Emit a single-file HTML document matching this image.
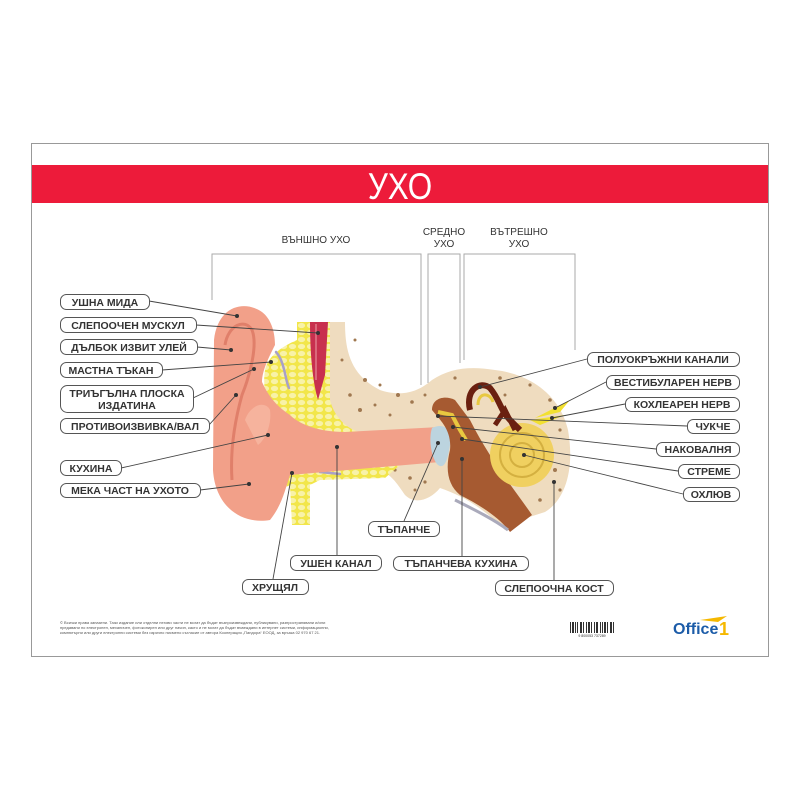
<!DOCTYPE html>
<html><head><meta charset="utf-8"><style>
html,body{margin:0;padding:0;background:#fff;}
svg{display:block}
.l{font-family:"Liberation Sans",sans-serif;font-size:10.5px;font-weight:bold;fill:#333;}
.b{fill:#fff;stroke:#555;stroke-width:1}
.c{stroke:#444;stroke-width:0.9;fill:none}
.d{fill:#333}
</style></head><body>
<svg width="800" height="800" viewBox="0 0 800 800" xmlns="http://www.w3.org/2000/svg">
<defs>
<pattern id="fat" width="9" height="7" patternUnits="userSpaceOnUse">
<rect width="9" height="7" fill="#f2e64a"/>
<ellipse cx="4.5" cy="3.5" rx="3.6" ry="2.6" fill="#f8f2a8"/>
</pattern>
</defs>
<rect x="31.5" y="143.5" width="737" height="513" fill="#fff" stroke="#999" stroke-width="1"/>
<rect x="32" y="165" width="736" height="38" fill="#ed1b3a"/>
<text x="400" y="199" text-anchor="middle" font-family="Liberation Sans,sans-serif" font-size="37" fill="#fff" transform="translate(400 0) scale(0.85 1) translate(-400 0)">УХО</text>
<g font-family="Liberation Sans,sans-serif" font-size="10" fill="#333" text-anchor="middle">
<text x="316" y="243">ВЪНШНО УХО</text>
<text x="444" y="235">СРЕДНО</text><text x="444" y="247">УХО</text>
<text x="519" y="235">ВЪТРЕШНО</text><text x="519" y="247">УХО</text>
</g>
<g fill="none" stroke="#aaa" stroke-width="1">
<path d="M212 300V254H421V385"/>
<path d="M428 383V254H460V363"/>
<path d="M464 360V254H575V350"/>
</g>
<!-- bone -->
<path d="M330 322 L345 322 C345 350 350 375 380 390 C405 398 420 390 432 380 C450 368 470 366 495 370 C530 374 560 395 568 430 C575 470 565 500 545 512 L520 520 L505 530 C480 505 460 495 440 488 C430 500 415 505 405 495 C398 485 392 475 380 470 L330 470 Z" fill="#efdcbf"/>
<g fill="#a07850">
<circle cx="355" cy="340" r="1.5"/><circle cx="365" cy="380" r="2"/><circle cx="380" cy="385" r="1.5"/><circle cx="398" cy="395" r="2"/><circle cx="350" cy="395" r="1.8"/><circle cx="342" cy="360" r="1.5"/><circle cx="360" cy="410" r="2"/><circle cx="375" cy="405" r="1.5"/><circle cx="412" cy="402" r="1.8"/><circle cx="425" cy="395" r="1.5"/><circle cx="455" cy="378" r="1.6"/><circle cx="500" cy="378" r="1.8"/><circle cx="530" cy="385" r="1.6"/><circle cx="550" cy="400" r="1.8"/><circle cx="560" cy="430" r="1.6"/><circle cx="555" cy="470" r="2"/><circle cx="560" cy="490" r="1.6"/><circle cx="540" cy="500" r="1.8"/><circle cx="395" cy="470" r="1.6"/><circle cx="410" cy="478" r="1.8"/><circle cx="425" cy="482" r="1.6"/><circle cx="390" cy="415" r="1.5"/><circle cx="505" cy="395" r="1.5"/><circle cx="415" cy="490" r="1.5"/>
</g>
<!-- fat -->
<path d="M297 322 L330 322 L330 400 C335 420 350 430 360 432 L300 440 L275 430 C268 410 262 390 265 370 C268 355 285 345 297 340 Z" fill="url(#fat)"/>
<path d="M275 470 L385 462 L400 465 L385 478 L320 480 L310 485 L310 525 L292 525 L290 485 L280 490 Z" fill="url(#fat)"/>
<g fill="none" stroke="#a8a0c8" stroke-width="2.5" stroke-linecap="round"><path d="M276 352 C285 362 285 380 289 388"/><path d="M306 437 L335 434"/><path d="M290 472 L300 472"/><path d="M320 472 L340 474"/></g>
<!-- muscle -->
<path d="M310 322 L328 322 L325 375 L318 400 C312 380 310 350 310 322Z" fill="#c8304e"/>
<path d="M316 324 L316 380" stroke="#e07a8a" stroke-width="1.5"/>
<!-- pinna -->
<path d="M262 312 C245 300 218 305 214 340 L213 470 C215 505 240 525 270 520 C282 505 285 490 290 475 L440 462 L440 427 L345 432 C320 432 300 425 290 415 C275 405 268 395 262 382 C262 370 270 355 275 345 C275 330 270 318 262 312 Z" fill="#f2a089"/>
<path d="M225 345 C228 325 245 318 252 330 C258 345 250 375 242 395 C235 420 230 450 232 480" fill="none" stroke="#e07f6a" stroke-width="3"/>
<path d="M245 420 C250 405 265 400 270 410 C272 425 265 440 258 445" fill="#f6b39d"/>
<!-- eardrum -->
<path d="M432 428 C445 422 452 430 450 445 C448 458 445 470 438 465 C432 460 428 440 432 428Z" fill="#bcd4df"/>
<!-- middle ear -->
<path d="M432 410 C432 398 445 395 455 400 L470 420 C490 460 515 490 532 515 L510 532 C500 518 480 505 460 495 C448 485 445 470 450 450 C452 430 440 420 432 410Z" fill="#a65a31"/>
<path d="M455 500 C475 510 495 520 508 530" stroke="#aab" stroke-width="3" fill="none"/>
<path d="M438 412 L452 415 L460 430 L466 440" stroke="#e8c840" stroke-width="4" fill="none"/>
<!-- cochlea -->
<circle cx="522" cy="455" r="32" fill="#f0d060"/>
<circle cx="522" cy="455" r="22" fill="none" stroke="#d4b040" stroke-width="2"/>
<circle cx="522" cy="455" r="12" fill="none" stroke="#d4b040" stroke-width="2"/>
<!-- semicircular -->
<path d="M470 410 C465 390 480 380 490 388 C500 400 500 410 510 420 L520 430" fill="none" stroke="#6a2010" stroke-width="6"/>
<path d="M478 405 C478 392 490 392 493 402" fill="none" stroke="#e8c840" stroke-width="3"/>
<path d="M495 425 L505 410 L515 430" fill="none" stroke="#6a2010" stroke-width="5"/>
<path d="M535 418 L570 400 L560 412 Z" fill="#f2e030"/>
<path d="M530 420 L565 415 L540 425Z" fill="#f2e030"/>
<!-- connectors -->
<g class="c">
<path d="M149 301 L237 316"/><path d="M196 325 L318 333"/><path d="M197 347 L231 350"/><path d="M162 370 L271 362"/><path d="M193 398 L254 369"/><path d="M209 425 L236 395"/><path d="M121 468 L268 435"/><path d="M200 490 L249 484"/>
<path d="M404 521 L438 443"/><path d="M337 555 L337 447"/><path d="M273 579 L292 473"/><path d="M462 557 L462 459"/><path d="M554 580 L554 482"/>
<path d="M587 359 L480 387"/><path d="M606 382 L555 408"/><path d="M625 404 L552 418"/><path d="M687 426 L438 416"/><path d="M656 449 L453 427"/><path d="M678 471 L462 439"/><path d="M683 494 L524 455"/>
</g>
<g class="d">
<circle cx="237" cy="316" r="2"/><circle cx="318" cy="333" r="2"/><circle cx="231" cy="350" r="2"/><circle cx="271" cy="362" r="2"/><circle cx="254" cy="369" r="2"/><circle cx="236" cy="395" r="2"/><circle cx="268" cy="435" r="2"/><circle cx="249" cy="484" r="2"/><circle cx="438" cy="443" r="2"/><circle cx="337" cy="447" r="2"/><circle cx="292" cy="473" r="2"/><circle cx="462" cy="459" r="2"/><circle cx="554" cy="482" r="2"/><circle cx="480" cy="387" r="2"/><circle cx="555" cy="408" r="2"/><circle cx="552" cy="418" r="2"/><circle cx="438" cy="416" r="2"/><circle cx="453" cy="427" r="2"/><circle cx="462" cy="439" r="2"/><circle cx="524" cy="455" r="2"/>
</g>
<!-- labels -->
<g>
<rect class="b" x="60.5" y="294.5" width="89" height="15" rx="6"/><text class="l" x="105" y="306" text-anchor="middle">УШНА МИДА</text>
<rect class="b" x="60.5" y="317.5" width="136" height="15" rx="6"/><text class="l" x="128" y="329" text-anchor="middle">СЛЕПООЧЕН МУСКУЛ</text>
<rect class="b" x="60.5" y="339.5" width="137" height="15" rx="6"/><text class="l" x="129" y="351" text-anchor="middle">ДЪЛБОК ИЗВИТ УЛЕЙ</text>
<rect class="b" x="60.5" y="362.5" width="102" height="15" rx="6"/><text class="l" x="111" y="374" text-anchor="middle">МАСТНА ТЪКАН</text>
<rect class="b" x="60.5" y="385.5" width="133" height="27" rx="7"/><text class="l" x="127" y="397" text-anchor="middle">ТРИЪГЪЛНА ПЛОСКА</text><text class="l" x="127" y="409" text-anchor="middle">ИЗДАТИНА</text>
<rect class="b" x="60.5" y="418.5" width="149" height="15" rx="6"/><text class="l" x="135" y="430" text-anchor="middle">ПРОТИВОИЗВИВКА/ВАЛ</text>
<rect class="b" x="60.5" y="460.5" width="61" height="15" rx="6"/><text class="l" x="91" y="472" text-anchor="middle">КУХИНА</text>
<rect class="b" x="60.5" y="483.5" width="140" height="14" rx="6"/><text class="l" x="130" y="494" text-anchor="middle">МЕКА ЧАСТ НА УХОТО</text>
<rect class="b" x="368.5" y="521.5" width="71" height="15" rx="6"/><text class="l" x="404" y="533" text-anchor="middle">ТЪПАНЧЕ</text>
<rect class="b" x="290.5" y="555.5" width="91" height="15" rx="6"/><text class="l" x="336" y="567" text-anchor="middle">УШЕН КАНАЛ</text>
<rect class="b" x="242.5" y="579.5" width="66" height="15" rx="6"/><text class="l" x="275" y="591" text-anchor="middle">ХРУЩЯЛ</text>
<rect class="b" x="393.5" y="556.5" width="135" height="14" rx="6"/><text class="l" x="461" y="567" text-anchor="middle">ТЪПАНЧЕВА КУХИНА</text>
<rect class="b" x="495.5" y="580.5" width="118" height="15" rx="6"/><text class="l" x="554" y="592" text-anchor="middle">СЛЕПООЧНА КОСТ</text>
<rect class="b" x="587.5" y="352.5" width="152" height="14" rx="6"/><text class="l" x="663" y="363" text-anchor="middle">ПОЛУОКРЪЖНИ КАНАЛИ</text>
<rect class="b" x="606.5" y="375.5" width="133" height="14" rx="6"/><text class="l" x="673" y="386" text-anchor="middle">ВЕСТИБУЛАРЕН НЕРВ</text>
<rect class="b" x="625.5" y="397.5" width="114" height="14" rx="6"/><text class="l" x="682" y="408" text-anchor="middle">КОХЛЕАРЕН НЕРВ</text>
<rect class="b" x="687.5" y="419.5" width="52" height="14" rx="6"/><text class="l" x="713" y="430" text-anchor="middle">ЧУКЧЕ</text>
<rect class="b" x="656.5" y="442.5" width="83" height="14" rx="6"/><text class="l" x="698" y="453" text-anchor="middle">НАКОВАЛНЯ</text>
<rect class="b" x="678.5" y="464.5" width="61" height="14" rx="6"/><text class="l" x="709" y="475" text-anchor="middle">СТРЕМЕ</text>
<rect class="b" x="683.5" y="487.5" width="56" height="14" rx="6"/><text class="l" x="711" y="498" text-anchor="middle">ОХЛЮВ</text>
</g>
<!-- footer -->
<g font-family="Liberation Sans,sans-serif" font-size="4" fill="#555">
<text x="60" y="624">© Всички права запазени. Тази издание или отделни негови части не могат да бъдат възпроизвеждани, публикувани, разпространявани и/или</text>
<text x="60" y="629">предавани по електронен, механичен, фотокопирен или друг начин, както и не могат да бъдат въвеждани в интернет системи, информационни,</text>
<text x="60" y="634">компютърни или други електронни системи без изрично писмено съгласие от автора Кооперация „Пандора“ ЕООД, за връзка 02 970 67 21.</text>
</g>
<g fill="#333">
<rect x="570" y="622" width="1" height="11"/><rect x="572" y="622" width="2" height="11"/><rect x="575" y="622" width="1" height="11"/><rect x="577" y="622" width="1" height="11"/><rect x="580" y="622" width="2" height="11"/><rect x="583" y="622" width="1" height="11"/><rect x="586" y="622" width="1" height="11"/><rect x="588" y="622" width="2" height="11"/><rect x="591" y="622" width="1" height="11"/><rect x="594" y="622" width="1" height="11"/><rect x="596" y="622" width="2" height="11"/><rect x="600" y="622" width="1" height="11"/><rect x="602" y="622" width="1" height="11"/><rect x="604" y="622" width="2" height="11"/><rect x="607" y="622" width="1" height="11"/><rect x="610" y="622" width="2" height="11"/><rect x="613" y="622" width="1" height="11"/>
<text x="592" y="637" font-family="Liberation Sans,sans-serif" font-size="3.5" text-anchor="middle">9 800053 737289</text>
</g>
<path d="M700 620 L727 616 L718 622 Z" fill="#f5b800"/>
<text x="673" y="634" font-family="Liberation Sans,sans-serif" font-size="16" font-weight="bold" fill="#1c5ca8">Office</text>
<text x="719" y="635" font-family="Liberation Sans,sans-serif" font-size="18" font-weight="bold" fill="#f5b800">1</text>
</svg>
</body></html>
